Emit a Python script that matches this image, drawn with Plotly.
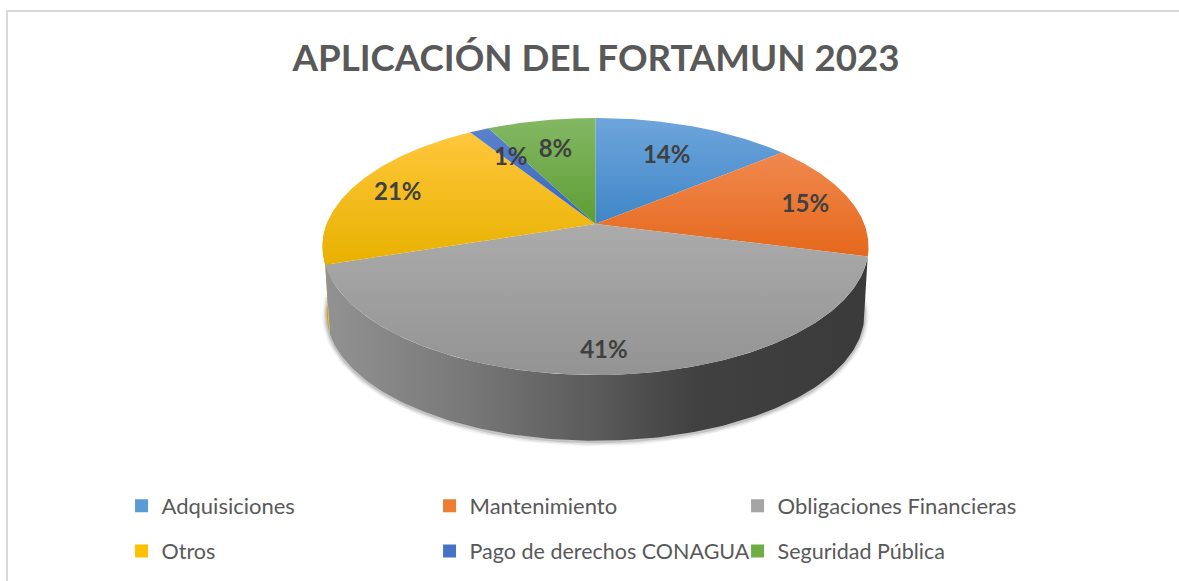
import numpy as np
import plotly.graph_objects as go

TITLE = "APLICACIÓN DEL FORTAMUN 2023"
categories = ["Adquisiciones", "Mantenimiento", "Obligaciones Financieras", "Otros", "Pago de derechos CONAGUA", "Seguridad Pública"]
values = [14, 15, 41, 21, 1.4, 7.6]
colors_top = ["#6ea5dc", "#f0884f", "#ababab", "#ffc73c", "#5b81cd", "#84b864"]
colors_bottom = ["#3f86c7", "#e5681b", "#939393", "#e8b100", "#3565bb", "#5d9d33"]
legend_colors = ["#5b9bd5", "#ed7d31", "#a5a5a5", "#ffc000", "#4472c4", "#70ad47"]
label_radius = [0.69, 0.825, 0.848, 0.82, 0.70, 0.705]

# perspective pie geometry (pixel axes)
CX, CY, A, B, K = 595.5, 224.0, 268.8, 124.6, 0.175
DEPTH, SHRINK = 68.0, 0.985
LABEL_DY = 3.5


def project(theta, r=1.0, dy=0.0, s=1.0):
    theta = np.asarray(theta, dtype=float)
    u, v = r * np.sin(theta), r * np.cos(theta)
    w = 1 + K * v
    return CX + s * A * u / w, CY + dy - s * B * v / w


vals = np.array(values, dtype=float)
edges = np.concatenate([[0], np.cumsum(vals)]) / vals.sum() * 2 * np.pi
mids = (edges[:-1] + edges[1:]) / 2
fig = go.Figure()

# soft shadow under the wall
ta = np.linspace(np.radians(92), np.radians(268), 160)
sx, sy = project(ta, dy=DEPTH, s=SHRINK)
for width, alpha in [(9, 0.05), (6, 0.07), (3, 0.12)]:
    fig.add_trace(go.Scatter(x=sx, y=sy + 1, mode="lines", line=dict(color=f"rgba(0,0,0,{alpha})", width=width),
                             showlegend=False, hoverinfo="skip"))


def wall(t0, t1, fillgradient=None, color=None):
    t = np.linspace(t0, t1, 160)
    xt, yt = project(t)
    xb, yb = project(t[::-1], dy=DEPTH, s=SHRINK)
    kw = dict(fillgradient=fillgradient) if fillgradient else dict(fillcolor=color)
    fig.add_trace(go.Scatter(x=np.r_[xt, xb], y=np.r_[yt, yb], mode="lines", line=dict(width=0),
                             fill="toself", showlegend=False, hoverinfo="skip", **kw))


wall(edges[3], min(edges[4], np.radians(272)), color="#d9a600")
wall(edges[2], edges[3], fillgradient=dict(
    type="horizontal", start=326, stop=868,
    colorscale=[[0, "#929292"], [0.26, "#787878"], [0.5, "#5a5a5a"], [0.68, "#414141"], [1, "#3a3a3a"]]))

# top surface
for i, name in enumerate(categories):
    t = np.linspace(edges[i], edges[i + 1], max(8, int(vals[i] * 6)))
    x, y = project(t)
    x = np.r_[CX, x, CX]
    y = np.r_[CY, y, CY]
    fig.add_trace(go.Scatter(x=x, y=y, mode="lines", line=dict(width=0), fill="toself", name=name,
                             showlegend=False, hoverinfo="skip",
                             fillgradient=dict(type="vertical", start=float(y.min()), stop=float(y.max()),
                                               colorscale=[[0, colors_top[i]], [1, colors_bottom[i]]])))

# percentage labels
lx, ly = project(mids, r=np.array(label_radius), dy=LABEL_DY)
fig.add_trace(go.Scatter(x=lx, y=ly, mode="text", text=[f"{v / vals.sum() * 100:.0f}%" for v in vals],
                         textfont=dict(family="Lato", size=24, color="#404040", weight="bold"),
                         showlegend=False, hoverinfo="skip"))

# legend entries
for i, name in enumerate(categories):
    fig.add_trace(go.Scatter(x=[None], y=[None], mode="markers", name=name,
                             marker=dict(symbol="square", size=13, color=legend_colors[i]),
                             legend="legend" if i < 3 else "legend2"))

leg = dict(orientation="h", xanchor="left", yanchor="middle", x=0.1031, entrywidth=263, entrywidthmode="pixels",
           bgcolor="rgba(0,0,0,0)", itemclick=False, itemdoubleclick=False)

fig.update_layout(
    width=1179, height=581, margin=dict(l=0, r=0, t=0, b=0, autoexpand=False),
    paper_bgcolor="white", plot_bgcolor="white",
    title=dict(text=TITLE, x=596 / 1179, xanchor="center", y=1 - 58 / 581, yanchor="middle",
               font=dict(family="Lato", size=36.7, color="#595959", weight="bold")),
    xaxis=dict(visible=False, range=[0, 1179], fixedrange=True),
    yaxis=dict(visible=False, range=[581, 0], fixedrange=True),
    legend=dict(leg, y=1 - 506 / 581, font=dict(family="Lato", size=22, color="#595959")),
    legend2=dict(leg, y=1 - 551 / 581, font=dict(family="Lato", size=21.5, color="#595959")),
    shapes=[dict(type="rect", xref="x", yref="y", x0=7, x1=1300, y0=11, y1=700, line=dict(color="#d9d9d9", width=2), layer="below")],
)
fig.write_html("out.html", config=dict(displayModeBar=False), post_script="document.body.style.margin='0';")
